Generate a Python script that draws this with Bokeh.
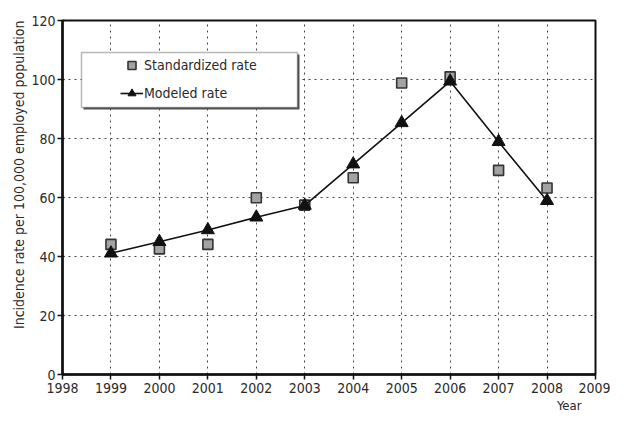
from bokeh.plotting import figure
from bokeh.models import (ColumnDataSource, FixedTicker, Range1d, Legend, LegendItem,
                          BoxAnnotation, Title)
from bokeh.embed import file_html
from bokeh.resources import INLINE

years = [1999, 2000, 2001, 2002, 2003, 2004, 2005, 2006, 2007, 2008]
standardized_rate = [44.1, 42.6, 44.1, 59.9, 57.4, 66.7, 98.8, 100.9, 69.2, 63.2]
modeled_rate = [41.1, 45.0, 49.0, 53.3, 57.3, 71.3, 85.3, 99.4, 78.9, 58.9]
x_ticks = list(range(1998, 2010))
y_ticks = [0, 20, 40, 60, 80, 100, 120]

FONT = "'DejaVu Sans Condensed', sans-serif"
TXT = "#2a2a2a"

src = ColumnDataSource(dict(year=years, std=standardized_rate, mod=modeled_rate))

p = figure(width=610, height=412, output_backend="svg", toolbar_location=None,
           x_range=Range1d(1998, 2009), y_range=Range1d(0, 120),
           min_border_left=62, min_border_right=15, min_border_top=20, min_border_bottom=0)

p.background_fill_color = "white"
p.border_fill_color = "white"
p.outline_line_color = "#111111"
p.outline_line_width = 2

for ax in (p.xaxis[0], p.yaxis[0]):
    ax.axis_line_width = 2.5
    ax.axis_line_color = "#111111"
    ax.major_tick_line_color = "#111111"
    ax.major_tick_line_width = 1.5
    ax.minor_tick_line_color = None
    ax.major_label_text_font = FONT
    ax.major_label_text_font_size = "14px"
    ax.major_label_text_color = TXT

p.xaxis.ticker = FixedTicker(ticks=x_ticks)
p.yaxis.ticker = FixedTicker(ticks=y_ticks)
p.xaxis.major_tick_out = 5
p.xaxis.major_tick_in = 0
p.yaxis.major_tick_out = 5
p.yaxis.major_tick_in = 2
p.xaxis.major_label_standoff = 3
p.yaxis.major_label_standoff = 2

ylab = Title(text="Incidence rate per 100,000 employed population", align="right",
             text_font=FONT, text_font_size="14px", text_font_style="normal",
             text_color=TXT, offset=0, standoff=4)
p.add_layout(ylab, "left")

p.xgrid.grid_line_color = "#444444"
p.xgrid.grid_line_dash = "2 4"
p.xgrid.grid_line_width = 1
p.ygrid.grid_line_color = "#444444"
p.ygrid.grid_line_dash = "2 4"
p.ygrid.grid_line_width = 1

sq = p.scatter("year", "std", source=src, marker="square", size=10,
               fill_color="#a3a3a3", line_color="#333333", line_width=1.6)
ln = p.line("year", "mod", source=src, line_color="#111111", line_width=1.6)
tri = p.scatter("year", "mod", source=src, marker="triangle", size=13,
                fill_color="#111111", line_color="#111111")

year_title = Title(text="Year", align="right", text_font=FONT, text_font_size="13px",
                   text_font_style="normal", text_color=TXT, offset=14, standoff=0)
p.add_layout(year_title, "below")

shadow = BoxAnnotation(left=21, right=237, top=320, bottom=265,
                       left_units="screen", right_units="screen",
                       top_units="screen", bottom_units="screen",
                       fill_color="#555555", fill_alpha=1, line_color=None)
box = BoxAnnotation(left=19, right=235, top=322, bottom=267,
                    left_units="screen", right_units="screen",
                    top_units="screen", bottom_units="screen",
                    fill_color="white", fill_alpha=1, line_color="#111111", line_width=1.5)
p.add_layout(shadow)
p.add_layout(box)

legend = Legend(items=[LegendItem(label="Standardized rate", renderers=[sq]),
                       LegendItem(label="Modeled rate", renderers=[ln, tri])],
                location=(58, 271), padding=0, spacing=8, glyph_width=23, glyph_height=20,
                label_height=20, label_standoff=1, border_line_color=None,
                background_fill_alpha=0, label_text_font=FONT,
                label_text_font_size="14px", label_text_color=TXT, margin=0)
p.add_layout(legend, "center")

open("out.html", "w").write(file_html(p, INLINE))
